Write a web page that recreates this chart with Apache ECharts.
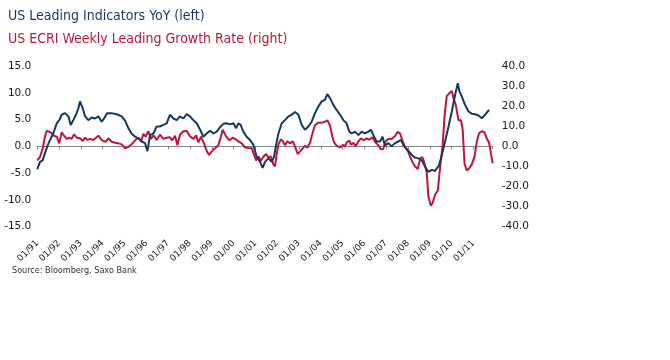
<!DOCTYPE html>
<html><head><meta charset="utf-8">
<script src="https://cdn.jsdelivr.net/npm/echarts@6/dist/echarts.min.js"></script>
<style>html,body{margin:0;padding:0;background:#fff}#c{width:670px;height:360px}</style>
</head><body><div id="c"></div>
<script>
// x positions are months since Jan 1991 (0 = 01/91)
const tickLabels = ['01/91','01/92','01/93','01/94','01/95','01/96','01/97','01/98','01/99','01/00','01/01','01/02','01/03','01/04','01/05','01/06','01/07','01/08','01/09','01/10','01/11'];

const leiMonth = [0,1.5,3.0,4.2,5.5,7.0,8.8,10.7,12.1,13.4,15.2,17.1,18.4,19.8,21.3,22.6,23.5,25.0,26.3,28.1,29.9,31.8,33.6,35.4,36.7,38.5,40.9,43.7,46.4,48.3,50.1,51.9,53.8,55.6,57.4,59.3,60.6,62.0,63.9,65.7,67.5,69.4,71.2,73.0,74.9,76.7,78.5,80.4,82.2,84.0,85.9,87.7,89.6,91.4,93.2,95.1,96.9,98.7,100.6,102.4,104.2,106.1,107.9,109.4,110.6,111.9,113.4,115.2,117.1,118.9,120.7,122.6,124.0,125.3,127.2,129.0,130.3,131.4,132.7,134.5,136.3,138.2,140.0,141.8,143.7,145.5,147.3,149.2,151.0,152.8,154.6,156.5,158.3,159.6,161.1,162.9,164.7,166.6,168.4,170.2,171.7,173.0,174.8,176.7,178.5,180.3,182.2,183.6,184.9,186.7,188.6,190.0,191.3,193.2,195.0,196.8,198.7,200.1,201.4,202.4,203.3,204.2,206.1,207.9,209.7,211.6,213.4,215.2,217.1,218.9,219.8,221.1,222.6,224.4,226.3,228.1,229.9,231.4,232.3,233.6,235.4,237.3,239.1,240.9,242.8,244.6,246.4,248.6];
const leiValue = [-4.25,-2.9,-2.6,-1.3,0,1.2,2.4,4.3,4.9,5.9,6.2,5.6,4.0,4.9,5.9,7.1,8.4,7.1,5.6,4.9,5.4,5.2,5.6,4.6,5.2,6.2,6.2,6.0,5.6,4.8,3.4,2.4,1.8,1.5,0.9,0.6,-0.9,2.1,2.4,3.7,3.7,4.0,4.3,5.9,5.2,4.9,5.6,5.2,6.0,5.6,4.9,4.3,3.1,1.8,2.4,2.9,2.4,2.75,3.6,4.2,4.3,4.1,4.3,3.4,4.3,4.0,2.75,1.8,1.2,0.25,-1.9,-2.9,-4.0,-2.9,-2.25,-2.9,-1.9,0.25,2.4,4.3,4.9,5.6,5.9,6.4,5.9,4.0,3.1,3.7,4.6,6.2,7.4,8.4,8.7,9.75,9.0,7.75,6.8,5.9,4.9,4.3,2.75,2.4,2.75,2.1,2.75,2.4,2.75,3.1,2.1,0.9,0.9,1.8,0.1,0.6,0,0.6,0.9,1.2,0.25,0,-0.5,-0.7,-1.6,-2.1,-2.25,-2.6,-3.8,-4.75,-4.4,-4.6,-4.9,-3.5,-1.6,0.9,3.7,6.5,9.6,11.8,10.25,9.3,7.75,6.5,6.1,6.0,5.75,5.25,5.9,6.8];

const ecriMonth = [0,1.5,3.0,4.2,5.2,6.6,7.9,9.2,10.7,12.1,13.4,14.7,16.2,17.6,18.9,20.2,21.7,23.5,25.0,26.3,27.5,29.0,30.8,32.3,33.6,34.9,36.3,37.8,39.1,40.9,42.8,44.6,46.4,48.3,50.1,51.9,53.8,55.6,57.1,58.4,59.6,61.1,62.6,63.9,65.7,67.5,69.4,71.2,73.0,74.3,75.8,77.1,78.5,80.4,82.2,84.0,85.9,87.4,88.6,90.1,91.9,93.2,94.5,96.0,97.8,99.6,101.1,102.0,103.9,105.7,107.5,108.8,110.6,112.5,114.3,116.2,118.0,118.9,120.4,121.7,123.0,124.4,125.9,127.2,128.4,129.9,130.8,131.7,132.7,134.0,135.1,136.3,137.6,139.1,140.6,141.8,143.3,144.6,146.1,147.3,148.6,150.1,151.6,152.8,154.6,156.5,158.3,159.6,161.1,162.3,163.4,164.7,166.6,168.4,169.3,170.2,171.7,172.6,173.9,175.2,176.7,178.1,179.4,181.2,182.7,184.4,185.8,187.7,189.1,190.4,191.7,193.2,195.0,196.8,198.3,199.6,200.9,202.3,203.9,205.1,206.4,207.9,209.4,210.7,211.9,213.0,214.3,215.2,216.5,217.6,218.9,220.4,221.7,223.0,224.1,225.3,226.8,228.1,229.2,230.3,231.8,233.2,234.1,235.1,236.3,237.6,239.1,240.6,241.9,243.1,244.6,246.1,247.5,248.6,249.7,250.6];
const ecriValue = [-7.0,-5.2,-1.0,4.8,7.7,7.3,6.5,5.3,4.8,1.5,7.0,5.3,3.7,4.3,3.7,6.0,4.3,4.0,2.7,4.3,3.2,3.7,3.2,4.3,5.3,3.7,2.7,2.3,4.0,2.3,1.8,1.5,1.0,-0.8,-0.3,1.0,3.0,4.3,2.5,6.2,4.8,7.5,3.7,5.5,3.2,5.8,3.7,4.3,4.5,3.0,5.3,0.5,5.8,7.5,7.7,5.0,3.7,5.5,2.0,4.8,1.0,-2.2,-4.3,-2.5,-1.0,0.5,5.0,8.3,5.0,3.0,4.3,3.7,2.5,1.5,-0.5,-0.8,-1.0,-1.7,-7.0,-5.0,-7.3,-5.2,-3.8,-5.5,-5.0,-9.0,-10.0,-4.0,1.0,3.5,2.5,0.5,2.5,1.5,2.5,0,-3.8,-2.5,-1.0,0.3,-0.7,2.0,7.0,10.5,11.8,11.8,12.2,13.0,10.3,5.0,1.8,0.3,-0.5,0.8,-0.3,2.0,2.8,0.8,1.8,0,2.5,4.0,3.0,4.0,3.3,4.5,2.3,0.5,-1.5,-1.3,2.5,3.7,3.7,5.0,7.2,6.5,3.0,-0.3,-2.3,-5.0,-7.8,-10.0,-11.3,-6.0,-5.3,-8.3,-13.0,-25.0,-29.5,-28.0,-24.0,-22.0,-10.0,0,15.0,25.0,26.5,27.5,23.5,20.5,13.0,13.0,8.0,-8.5,-12.0,-11.0,-9.0,-5.0,2.5,6.5,7.5,7.0,3.5,2.0,-4.0,-8.5];

const xMax = 250.6;
const pair = (xs, ys) => xs.map((x, i) => [x, ys[i]]);
const chart = echarts.init(document.getElementById('c'));
const labelFont = 'DejaVu Sans';
chart.setOption({
  animation: false,
  backgroundColor: '#ffffff',
  title: [
    {text: 'US Leading Indicators YoY (left)', left: 8, top: 9, padding: 0,
     textStyle: {fontFamily: 'DejaVu Sans Condensed, DejaVu Sans', fontSize: 14, fontWeight: 'normal', color: '#17375E'}},
    {text: 'US ECRI Weekly Leading Growth Rate (right)', left: 8, top: 32, padding: 0,
     textStyle: {fontFamily: 'DejaVu Sans Condensed, DejaVu Sans', fontSize: 14, fontWeight: 'normal', color: '#C0143C'}},
    {text: 'Source: Bloomberg, Saxo Bank', left: 12, top: 266, padding: 0,
     textStyle: {fontFamily: 'DejaVu Sans Condensed, DejaVu Sans', fontSize: 9, fontWeight: 'normal', color: '#333333'}}
  ],
  grid: {left: 37.3, right: 177.3, top: 66, bottom: 133.3, containLabel: false},
  xAxis: [
    {type: 'value', min: 0, max: xMax, interval: 12, position: 'bottom',
     axisLine: {show: false, onZero: false}, axisTick: {show: false}, splitLine: {show: false},
     axisLabel: {rotate: 45, margin: 15, fontFamily: labelFont, fontSize: 9, color: '#1a1a1a',
       formatter: v => (v % 12 === 0 && tickLabels[v / 12]) ? tickLabels[v / 12] : ''}},
    {type: 'value', min: 0, max: xMax, interval: 12, position: 'top',
     axisLine: {show: true, onZero: true, onZeroAxisIndex: 0, lineStyle: {color: '#868686', width: 1}},
     axisTick: {show: true, inside: true, length: 3, lineStyle: {color: '#868686'}},
     axisLabel: {show: false}, splitLine: {show: false}}
  ],
  yAxis: [
    {type: 'value', min: -15, max: 15, interval: 5, position: 'left',
     axisLine: {show: false}, axisTick: {show: false}, splitLine: {show: false},
     axisLabel: {margin: 6, fontFamily: labelFont, fontSize: 10.5, color: '#1a1a1a', formatter: v => v.toFixed(1)}},
    {type: 'value', min: -40, max: 40, interval: 10, position: 'right',
     axisLine: {show: false}, axisTick: {show: false}, splitLine: {show: false},
     axisLabel: {margin: 9, fontFamily: labelFont, fontSize: 10.5, color: '#1a1a1a', formatter: v => v.toFixed(1)}}
  ],
  series: [
    {name: 'US Leading Indicators YoY', type: 'line', xAxisIndex: 0, yAxisIndex: 0,
     data: pair(leiMonth, leiValue), showSymbol: false, symbol: 'none',
     lineStyle: {color: '#17375E', width: 2}, z: 3},
    {name: 'US ECRI Weekly Leading Growth Rate', type: 'line', xAxisIndex: 0, yAxisIndex: 1,
     data: pair(ecriMonth, ecriValue), showSymbol: false, symbol: 'none',
     lineStyle: {color: '#C0143C', width: 2}, z: 2}
  ]
});
</script></body></html>
